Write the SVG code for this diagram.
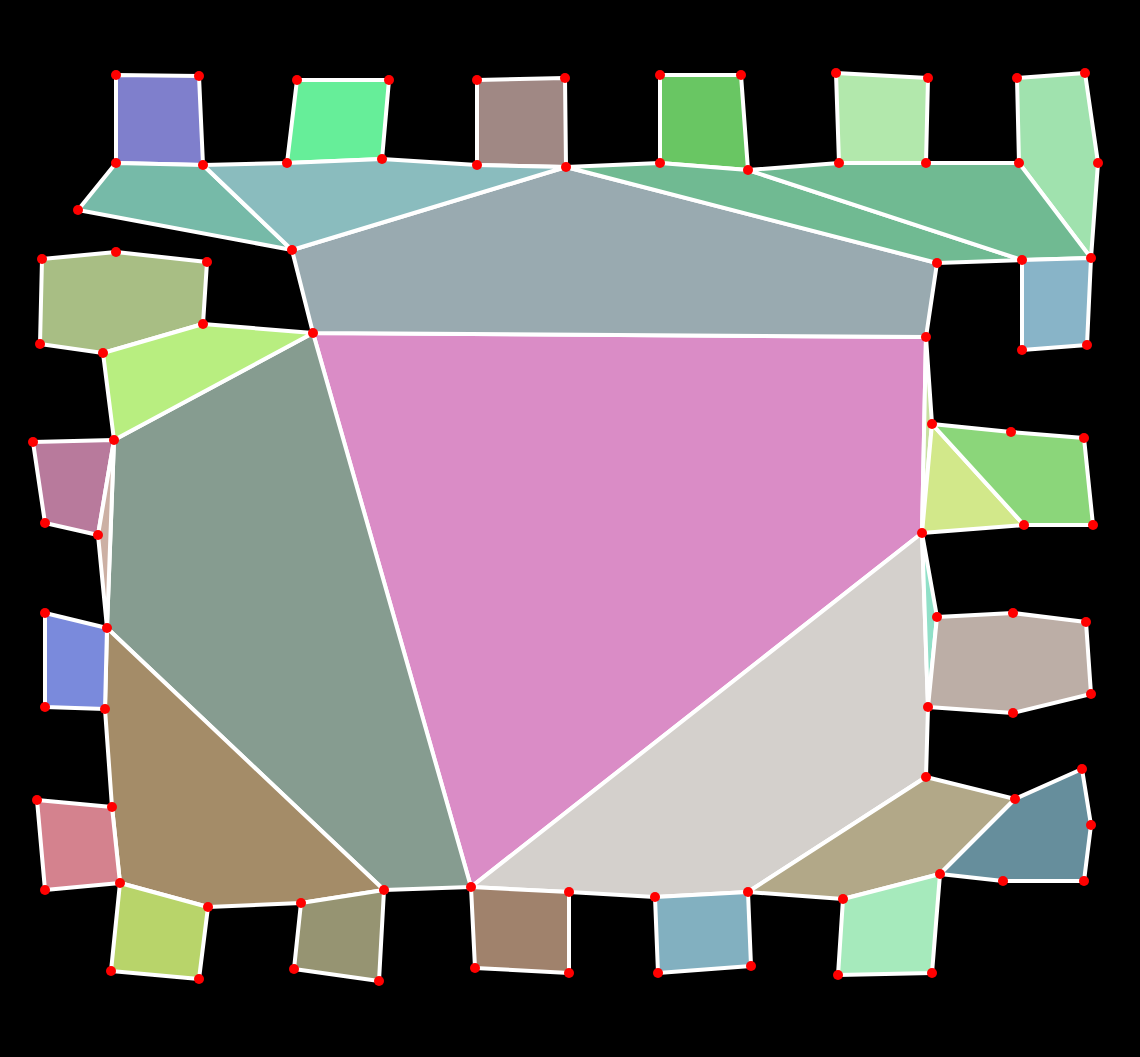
<svg xmlns="http://www.w3.org/2000/svg" width="1140" height="1057" viewBox="0 0 1140 1057">
<style>
.f{stroke:#fff;stroke-width:4;stroke-linejoin:round}
.v circle{fill:#f00}
</style>
<rect width="1140" height="1057" fill="#000"/>
<g id="cells">
<g id="c-pink"><polygon class="f" fill="#da8cc6" points="313,333 926,337 922,533 471,887"/></g>
<g id="c-gray"><polygon class="f" fill="#99aab0" points="292,250 566,167 937,263 926,337 313,333"/></g>
<g id="c-sage"><polygon class="f" fill="#869c90" points="313,333 471,887 384,890 107,628 114,440"/></g>
<g id="c-lightgray"><polygon class="f" fill="#d4d0cc" points="922,533 928,707 926,777 748,892 655,897 569,892 471,887"/></g>
<g id="c-brownbig"><polygon class="f" fill="#a48c68" points="107,628 384,890 301,903 208,907 120,883 112,807 105,709"/></g>
<g id="c-purple"><polygon class="f" fill="#7f7fcc" points="116,75 199,76 203,165 116,163"/></g>
<g id="c-green1"><polygon class="f" fill="#66ee99" points="297,80 389,80 382,159 287,163"/></g>
<g id="c-brown1"><polygon class="f" fill="#a08884" points="477,80 565,78 566,167 477,165"/></g>
<g id="c-green2"><polygon class="f" fill="#69c663" points="660,75 741,75 748,170 660,163"/></g>
<g id="c-green3"><polygon class="f" fill="#b2e8ac" points="836,73 928,78 926,163 839,163"/></g>
<g id="c-green4"><polygon class="f" fill="#a0e2ae" points="1017,78 1085,73 1098,163 1091,258 1019,163"/></g>
<g id="c-teal1"><polygon class="f" fill="#76baa8" points="116,163 203,165 292,250 78,210"/></g>
<g id="c-teal2"><polygon class="f" fill="#8abcbe" points="203,165 287,163 382,159 477,165 566,167 292,250"/></g>
<g id="c-band1"><polygon class="f" fill="#70ba92" points="566,167 660,163 748,170 1022,260 937,263"/></g>
<g id="c-band2"><polygon class="f" fill="#70ba92" points="748,170 839,163 926,163 1019,163 1091,258 1022,260"/></g>
<g id="c-blue1"><polygon class="f" fill="#88b4c8" points="1022,260 1091,258 1087,345 1022,350"/></g>
<g id="c-sliver1"><polygon class="f" fill="#c8e0a0" points="926,337 932,424 922,533"/></g>
<g id="c-yellow"><polygon class="f" fill="#d2e88a" points="932,424 1024,525 922,533"/></g>
<g id="c-green5"><polygon class="f" fill="#8bd67a" points="932,424 1011,432 1084,438 1093,525 1024,525"/></g>
<g id="c-aqua"><polygon class="f" fill="#90e0c8" points="922,533 937,617 928,707"/></g>
<g id="c-taupe"><polygon class="f" fill="#bcaea6" points="937,617 1013,613 1086,622 1091,694 1013,713 928,707"/></g>
<g id="c-tan"><polygon class="f" fill="#b2a888" points="926,777 1015,799 940,874 843,899 748,892"/></g>
<g id="c-slate"><polygon class="f" fill="#668e9c" points="1015,799 1082,769 1091,825 1084,881 1003,881 940,874"/></g>
<g id="c-mint"><polygon class="f" fill="#a6eabc" points="843,899 940,874 932,973 838,975"/></g>
<g id="c-blue2"><polygon class="f" fill="#82b0c0" points="655,897 748,892 751,966 658,973"/></g>
<g id="c-brown2"><polygon class="f" fill="#a0826c" points="471,887 569,892 569,973 475,968"/></g>
<g id="c-olive1"><polygon class="f" fill="#a8be84" points="42,259 116,252 207,262 203,324 103,353 40,344"/></g>
<g id="c-lime"><polygon class="f" fill="#b8ee80" points="203,324 313,333 114,440 103,353"/></g>
<g id="c-mauve"><polygon class="f" fill="#b87a9c" points="33,442 114,440 98,535 45,523"/></g>
<g id="c-sliver2"><polygon class="f" fill="#ccb0a4" points="114,440 107,628 98,535"/></g>
<g id="c-blue3"><polygon class="f" fill="#7a8adc" points="45,613 107,628 105,709 45,707"/></g>
<g id="c-rose"><polygon class="f" fill="#d4828e" points="37,800 112,807 120,883 45,890"/></g>
<g id="c-yg"><polygon class="f" fill="#b8d46a" points="120,883 208,907 199,979 111,971"/></g>
<g id="c-olive2"><polygon class="f" fill="#969472" points="301,903 384,890 379,981 294,969"/></g>
</g>
<g id="vertices" class="v">
<circle cx="116" cy="75" r="5"/><circle cx="199" cy="76" r="5"/><circle cx="116" cy="163" r="5"/><circle cx="203" cy="165" r="5"/><circle cx="78" cy="210" r="5"/>
<circle cx="297" cy="80" r="5"/><circle cx="389" cy="80" r="5"/><circle cx="287" cy="163" r="5"/><circle cx="382" cy="159" r="5"/>
<circle cx="477" cy="80" r="5"/><circle cx="565" cy="78" r="5"/><circle cx="477" cy="165" r="5"/><circle cx="566" cy="167" r="5"/>
<circle cx="660" cy="75" r="5"/><circle cx="741" cy="75" r="5"/><circle cx="660" cy="163" r="5"/><circle cx="748" cy="170" r="5"/>
<circle cx="836" cy="73" r="5"/><circle cx="928" cy="78" r="5"/><circle cx="839" cy="163" r="5"/><circle cx="926" cy="163" r="5"/>
<circle cx="1017" cy="78" r="5"/><circle cx="1085" cy="73" r="5"/><circle cx="1098" cy="163" r="5"/><circle cx="1019" cy="163" r="5"/>
<circle cx="1091" cy="258" r="5"/><circle cx="1022" cy="260" r="5"/><circle cx="937" cy="263" r="5"/><circle cx="292" cy="250" r="5"/>
<circle cx="42" cy="259" r="5"/><circle cx="116" cy="252" r="5"/><circle cx="207" cy="262" r="5"/><circle cx="203" cy="324" r="5"/><circle cx="40" cy="344" r="5"/><circle cx="103" cy="353" r="5"/>
<circle cx="313" cy="333" r="5"/><circle cx="926" cy="337" r="5"/><circle cx="1022" cy="350" r="5"/><circle cx="1087" cy="345" r="5"/>
<circle cx="932" cy="424" r="5"/><circle cx="1011" cy="432" r="5"/><circle cx="1084" cy="438" r="5"/><circle cx="1024" cy="525" r="5"/><circle cx="1093" cy="525" r="5"/><circle cx="922" cy="533" r="5"/>
<circle cx="33" cy="442" r="5"/><circle cx="114" cy="440" r="5"/><circle cx="45" cy="523" r="5"/><circle cx="98" cy="535" r="5"/>
<circle cx="45" cy="613" r="5"/><circle cx="107" cy="628" r="5"/><circle cx="45" cy="707" r="5"/><circle cx="105" cy="709" r="5"/>
<circle cx="937" cy="617" r="5"/><circle cx="1013" cy="613" r="5"/><circle cx="1086" cy="622" r="5"/><circle cx="1091" cy="694" r="5"/><circle cx="1013" cy="713" r="5"/><circle cx="928" cy="707" r="5"/>
<circle cx="926" cy="777" r="5"/><circle cx="1015" cy="799" r="5"/><circle cx="1082" cy="769" r="5"/><circle cx="1091" cy="825" r="5"/><circle cx="1003" cy="881" r="5"/><circle cx="1084" cy="881" r="5"/><circle cx="940" cy="874" r="5"/>
<circle cx="843" cy="899" r="5"/><circle cx="748" cy="892" r="5"/><circle cx="655" cy="897" r="5"/><circle cx="569" cy="892" r="5"/><circle cx="471" cy="887" r="5"/><circle cx="384" cy="890" r="5"/>
<circle cx="301" cy="903" r="5"/><circle cx="208" cy="907" r="5"/><circle cx="120" cy="883" r="5"/><circle cx="112" cy="807" r="5"/><circle cx="37" cy="800" r="5"/><circle cx="45" cy="890" r="5"/>
<circle cx="111" cy="971" r="5"/><circle cx="199" cy="979" r="5"/><circle cx="294" cy="969" r="5"/><circle cx="379" cy="981" r="5"/><circle cx="475" cy="968" r="5"/><circle cx="569" cy="973" r="5"/>
<circle cx="658" cy="973" r="5"/><circle cx="751" cy="966" r="5"/><circle cx="838" cy="975" r="5"/><circle cx="932" cy="973" r="5"/>
</g>
</svg>
